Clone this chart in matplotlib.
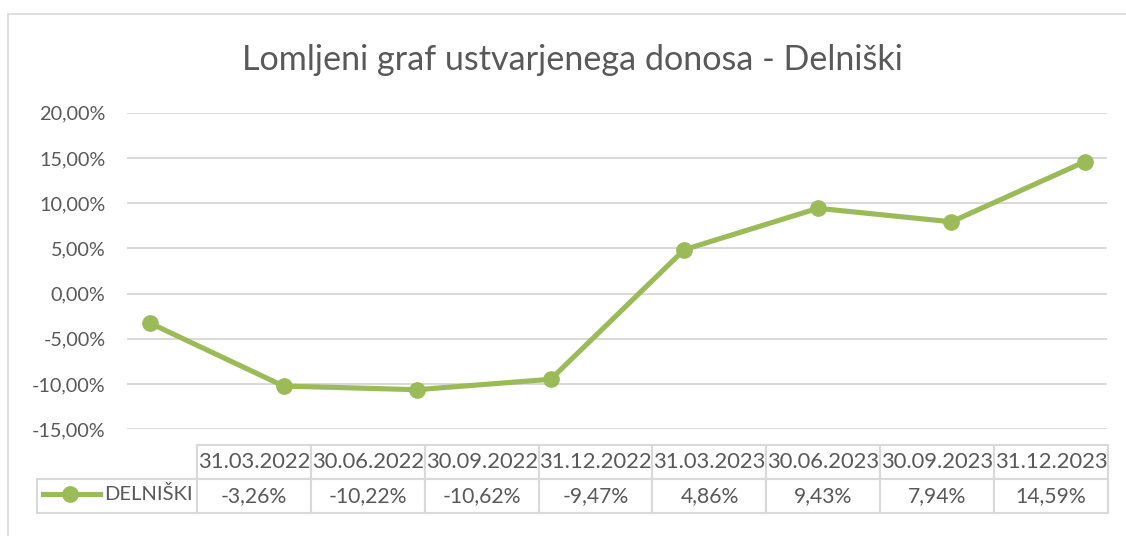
import matplotlib.pyplot as plt
from matplotlib.lines import Line2D
from matplotlib.patches import Rectangle

plt.rcParams['font.family'] = ['Lato', 'DejaVu Sans']

dates = ['31.03.2022', '30.06.2022', '30.09.2022', '31.12.2022',
         '31.03.2023', '30.06.2023', '30.09.2023', '31.12.2023']
delniski = [-3.26, -10.22, -10.62, -9.47, 4.86, 9.43, 7.94, 14.59]
series_name = 'DELNIŠKI'
yticks = [-15, -10, -5, 0, 5, 10, 15, 20]

green = '#9BBB59'
grey_txt = '#595959'
grid_col = '#D9D9D9'

W, H = 1126, 536
fig = plt.figure(figsize=(W / 100, H / 100), dpi=100)

# outer chart frame (Excel chart area border)
fig.add_artist(Rectangle((8 / W, 1 - 600 / H), 1200 / W, (600 - 14) / H,
                         transform=fig.transFigure, fill=False,
                         edgecolor=grid_col, linewidth=1.2))

# plot area in pixels
px_l, px_r, px_t, px_b = 127, 1107, 112.7, 429.3
ax = fig.add_axes([px_l / W, 1 - px_b / H, (px_r - px_l) / W, (px_b - px_t) / H])

x = list(range(len(dates)))
ax.plot(x, delniski, color=green, linewidth=3.7, marker='o', markersize=11,
        solid_capstyle='round', zorder=3, clip_on=False)

step = 133.57
ax.set_xlim((px_l - 150) / step, (px_r - 150) / step)
ax.set_ylim(-15, 20)
ax.set_yticks(yticks)
ax.set_yticklabels([f'{v:.2f}%'.replace('.', ',') for v in yticks])
ax.yaxis.grid(True, color=grid_col, linewidth=1.4)
ax.set_axisbelow(True)
ax.set_xticks([])
for s in ax.spines.values():
    s.set_visible(False)
ax.tick_params(axis='y', length=0, pad=15.5, labelsize=14.3, labelcolor=grey_txt)

fig.text(572 / W, 1 - 60 / H, 'Lomljeni graf ustvarjenega donosa - Delniški',
         ha='center', va='center', fontsize=24.6, color=grey_txt)

# data table under the plot
tb_l, tb_r, tb_t, tb_b = 37, 1108, 445, 513
first_w = 197 - tb_l
col_w = (tb_r - 197) / len(dates)
ax_w, ax_h = px_r - px_l, px_b - px_t
values_txt = [f'{v:.2f}%'.replace('.', ',') for v in delniski]
tbl = ax.table(cellText=[[''] + dates, [''] + values_txt],
               colWidths=[first_w / ax_w] + [col_w / ax_w] * len(dates),
               cellLoc='center',
               bbox=[(tb_l - px_l) / ax_w, (px_b - tb_b) / ax_h,
                     (tb_r - tb_l) / ax_w, (tb_b - tb_t) / ax_h])
tbl.auto_set_font_size(False)
for (r, c), cell in tbl.get_celld().items():
    cell.set_edgecolor(grid_col)
    cell.set_linewidth(1.5)
    cell.get_text().set_color(grey_txt)
    cell.get_text().set_fontsize(15.8 if r == 0 else 15.2)
    cell.PAD = 0.01
tbl[0, 0].visible_edges = 'BR'

# legend key inside the first cell
ly = 1 - 494 / H
fig.add_artist(Line2D([43 / W, 100 / W], [ly, ly], color=green, linewidth=3.7,
                      marker=None, transform=fig.transFigure))
fig.add_artist(Line2D([70 / W], [ly], color=green, marker='o', markersize=11,
                      transform=fig.transFigure))
fig.text(104 / W, ly, series_name, ha='left', va='center', fontsize=14.5,
         color=grey_txt)

fig.savefig('out.png', dpi=100)
